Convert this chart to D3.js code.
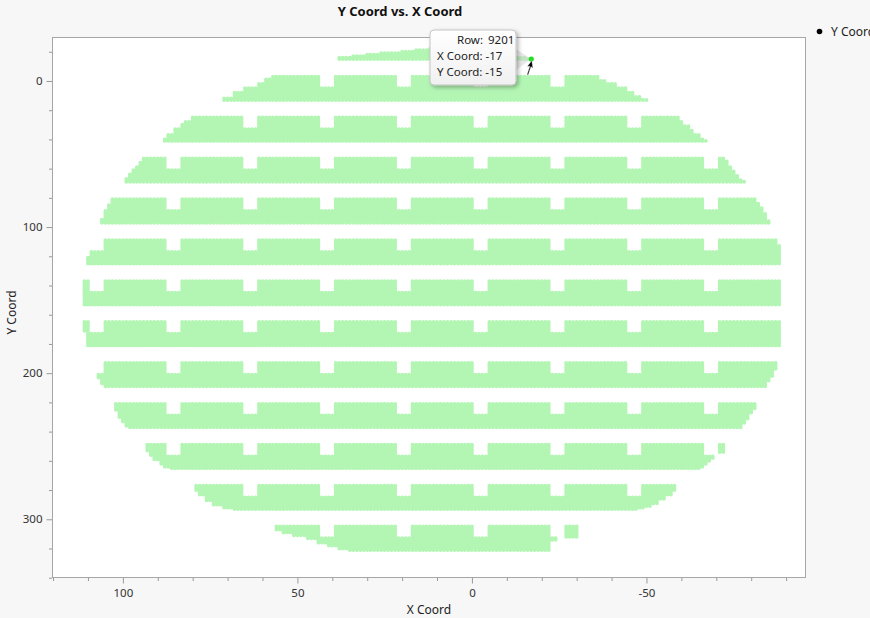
<!DOCTYPE html>
<html>
<head>
<meta charset="utf-8">
<script src="https://cdn.jsdelivr.net/npm/d3@7/dist/d3.min.js"></script>
<style>
  body { margin: 0; background: #f7f7f7; font-family: "Noto Sans", "Open Sans", sans-serif; }
  svg { display: block; }
  .axis text { font-size: 11.5px; fill: #333; font-family: "Noto Sans", sans-serif; }
  .axis line { stroke: #999; }
  .axis path { display: none; }
</style>
</head>
<body>
<div id="chart"></div>
<script>
// Die rows of the wafer: each row of dies is 17 grid rows high, a new one every 28 rows.
// stripTop = first grid row of the die row (notches hang from it)
// stripFirst / stripLast = grid rows that actually hold points (the top one is clipped by the wafer edge)
var stripTop   = [-31, -3, 25, 53, 81, 109, 137, 165, 193, 221, 249, 277, 305];
var stripFirst = [-22, -3, 25, 53, 81, 109, 137, 165, 193, 221, 249, 277, 305];
var stripLast  = [-15, 13, 41, 69, 97, 125, 153, 181, 209, 237, 265, 293, 321];

// Wafer edge per die row, read off the picture as steps: [from grid row, X Coord]
// leftEdge = largest X Coord of the row (left side, axis reversed), rightEdge = smallest
var leftEdge = [
  [[-22, 12], [-21, 16], [-20, 20], [-19, 26], [-18, 30], [-17, 34], [-16, 38]],
  [[-3, 57], [-1, 59], [2, 61], [5, 65], [8, 68], [12, 71]],
  [[25, 80], [28, 82], [30, 84], [33, 85], [37, 87], [40, 88]],
  [[53, 94], [56, 95], [59, 96], [61, 97], [64, 98], [67, 99]],
  [[81, 103], [85, 104], [89, 105], [95, 106]],
  [[109, 109], [121, 110]],
  [[137, 111]],
  [[165, 111], [172, 110]],
  [[193, 107], [204, 106], [208, 105]],
  [[221, 102], [226, 101], [231, 100], [234, 99], [237, 98]],
  [[249, 93], [254, 92], [257, 91], [260, 89], [263, 88], [265, 86]],
  [[277, 79], [281, 78], [284, 76], [288, 74], [291, 71], [293, 68]],
  [[305, 56], [308, 54], [310, 51], [312, 47], [314, 44], [317, 41], [319, 38], [321, 35]]
];
var rightEdge = [
  [[-22, 10], [-21, 6], [-20, 2], [-19, -4], [-18, -8], [-17, -12], [-16, -15], [-15, -17]],
  [[-3, -36], [0, -38], [2, -41], [5, -44], [8, -46], [11, -48], [13, -50]],
  [[25, -59], [28, -60], [31, -62], [34, -63], [37, -65], [40, -66], [41, -67]],
  [[53, -72], [55, -73], [59, -74], [62, -75], [65, -76], [68, -77], [69, -78]],
  [[81, -81], [84, -82], [87, -83], [91, -84], [96, -85]],
  [[109, -87], [113, -88]],
  [[137, -88]],
  [[165, -88]],
  [[193, -87], [198, -86], [203, -85], [206, -84]],
  [[221, -81], [225, -80], [228, -79], [232, -78], [235, -77]],
  [[249, -72], [255, -70], [257, -69], [259, -68], [261, -67], [263, -66], [265, -65]],
  [[277, -58], [281, -57], [284, -55], [287, -53], [290, -51], [292, -49], [293, -47]],
  [[305, -30], [313, -24], [315, -22]]
];

// Gaps between dies: X Coord columns left empty in the top rows of every die row
var notchCols = [[106, 109], [84, 87], [62, 65], [40, 43], [18, 21], [-4, -1], [-26, -23], [-48, -45], [-70, -67]];
var notchDepth = 8;

// Hovered point
var hovered = {row: 9201, x: -17, y: -15};

// Axes
var xDomain = [120.3, -95.7];
var yDomain = [-30.1, 340.2];
var xMajor = [100, 50, 0, -50];
var xMinor = [120, 110, 90, 80, 70, 60, 40, 30, 20, 10, -10, -20, -30, -40, -60, -70, -80, -90];
var yMajor = [0, 100, 200, 300];
var yMinor = [-20, 20, 40, 60, 80, 120, 140, 160, 180, 220, 240, 260, 280, 320, 340];

var width = 870, height = 618;
var frame = {left: 52, right: 806, top: 37, bottom: 578};

var svg = d3.select('#chart').append('svg')
    .attr('width', width)
    .attr('height', height);

var defs = svg.append('defs');
defs.append('clipPath').attr('id', 'plotclip')
  .append('rect')
    .attr('x', frame.left).attr('y', frame.top)
    .attr('width', frame.right - frame.left).attr('height', frame.bottom - frame.top);
var shadow = defs.append('filter').attr('id', 'shadow')
    .attr('x', '-20%').attr('y', '-20%').attr('width', '150%').attr('height', '150%');
shadow.append('feDropShadow')
    .attr('dx', 2).attr('dy', 2).attr('stdDeviation', 2)
    .attr('flood-color', '#000').attr('flood-opacity', 0.3);
var grad = defs.append('linearGradient').attr('id', 'tipfill')
    .attr('x1', 0).attr('y1', 0).attr('x2', 0).attr('y2', 1);
grad.append('stop').attr('offset', '0%').attr('stop-color', '#ffffff');
grad.append('stop').attr('offset', '100%').attr('stop-color', '#f0f0f0');

var x = d3.scaleLinear().domain(xDomain).range([frame.left, frame.right]);
var y = d3.scaleLinear().domain(yDomain).range([frame.top, frame.bottom]);

// plot background
svg.append('rect')
    .attr('x', frame.left).attr('y', frame.top)
    .attr('width', frame.right - frame.left).attr('height', frame.bottom - frame.top)
    .attr('fill', '#fff');

// build the points from the die rows
function edgeAt(steps, row) {
  var v = steps[0][1];
  steps.forEach(function(s) { if (row >= s[0]) v = s[1]; });
  return v;
}
function inNotch(c) {
  return notchCols.some(function(n) { return c >= n[0] && c <= n[1]; });
}

var points = [];
stripTop.forEach(function(top, i) {
  for (var r = stripFirst[i]; r <= stripLast[i]; r++) {
    var hi = edgeAt(leftEdge[i], r), lo = edgeAt(rightEdge[i], r);
    for (var c = lo; c <= hi; c++) {
      if (r - top < notchDepth && inNotch(c)) continue;
      points.push({strip: i, x: c, y: r});
    }
  }
});

// one path per die row, a small dot per point
var rad = 1.95;
function dots(list) {
  var s = '';
  list.forEach(function(d) {
    var cx = x(d.x), cy = y(d.y);
    s += 'M' + (cx - rad).toFixed(2) + ',' + cy.toFixed(2) +
         'a' + rad + ',' + rad + ' 0 1,0 ' + (2 * rad) + ',0' +
         'a' + rad + ',' + rad + ' 0 1,0 ' + (-2 * rad) + ',0';
  });
  return s;
}

var plot = svg.append('g').attr('clip-path', 'url(#plotclip)');
plot.selectAll('path.strip')
    .data(Array.from(d3.group(points, function(d) { return d.strip; }).values()))
  .enter().append('path')
    .attr('class', 'strip')
    .attr('fill', '#b3f6b4')
    .attr('d', dots);

// frame
svg.append('rect')
    .attr('x', frame.left + 0.5).attr('y', frame.top + 0.5)
    .attr('width', frame.right - frame.left - 1).attr('height', frame.bottom - frame.top - 1)
    .attr('fill', 'none')
    .attr('stroke', '#a6a6a6');

// axes
var fmt = function(d) { return String(d); };
svg.append('g')
    .attr('class', 'axis x')
    .attr('transform', 'translate(0,' + frame.bottom + ')')
    .call(d3.axisBottom(x).tickValues(xMajor).tickSize(5.5).tickPadding(5).tickFormat(fmt));
svg.append('g')
    .attr('class', 'axis x minor')
    .attr('transform', 'translate(0,' + frame.bottom + ')')
    .call(d3.axisBottom(x).tickValues(xMinor).tickSize(3).tickFormat(''));
svg.append('g')
    .attr('class', 'axis y')
    .attr('transform', 'translate(' + frame.left + ',0)')
    .call(d3.axisLeft(y).tickValues(yMajor).tickSize(5.5).tickPadding(4).tickFormat(fmt));
svg.append('g')
    .attr('class', 'axis y minor')
    .attr('transform', 'translate(' + frame.left + ',0)')
    .call(d3.axisLeft(y).tickValues(yMinor).tickSize(3).tickFormat(''));

// titles
svg.append('text')
    .attr('x', 400).attr('y', 16)
    .attr('text-anchor', 'middle')
    .attr('font-size', 13).attr('font-weight', 'bold').attr('fill', '#111')
    .text('Y Coord vs. X Coord');
svg.append('text')
    .attr('x', (frame.left + frame.right) / 2).attr('y', 614)
    .attr('text-anchor', 'middle')
    .attr('font-size', 12).attr('fill', '#222')
    .text('X Coord');
svg.append('text')
    .attr('transform', 'translate(16,' + ((frame.top + frame.bottom) / 2 + 5) + ') rotate(-90)')
    .attr('text-anchor', 'middle')
    .attr('font-size', 12).attr('fill', '#222')
    .text('Y Coord');

// legend
var legend = svg.append('g');
legend.append('circle').attr('cx', 819.5).attr('cy', 31.5).attr('r', 2.8).attr('fill', '#000');
legend.append('text').attr('x', 831).attr('y', 35.5)
    .attr('font-size', 12).attr('fill', '#222').text('Y Coord');

// hovered point + tooltip
var hx = x(hovered.x), hy = y(hovered.y);
svg.append('path')
    .attr('d', 'M516,49L' + hx + ',' + hy + 'L516,70Z')
    .attr('fill', '#cfcfcf').attr('opacity', 0.45);
svg.append('circle')
    .attr('cx', hx).attr('cy', hy).attr('r', 2.6)
    .attr('fill', '#22dd22');

var tip = svg.append('g');
tip.append('rect')
    .attr('x', 430).attr('y', 30).attr('width', 86).attr('height', 55).attr('rx', 4)
    .attr('fill', 'url(#tipfill)').attr('stroke', '#c4c4c4')
    .attr('filter', 'url(#shadow)');
tip.append('text').attr('x', 483).attr('y', 44).attr('text-anchor', 'end')
    .attr('font-size', 11.5).attr('fill', '#222').text('Row:');
tip.append('text').attr('x', 488).attr('y', 44)
    .attr('font-size', 11.5).attr('fill', '#222').text(String(hovered.row));
tip.append('text').attr('x', 437).attr('y', 60)
    .attr('font-size', 11.5).attr('fill', '#222').text('X Coord: ' + hovered.x);
tip.append('text').attr('x', 437).attr('y', 76)
    .attr('font-size', 11.5).attr('fill', '#222').text('Y Coord: ' + hovered.y);

// mouse cursor
svg.append('path')
    .attr('d', 'M' + (hx + 0.5) + ',' + (hy + 1.5) + 'l-4.5,6l2.5,-0.3l-2.8,8.5l1.2,0.3l2.8,-8.4l2,1.6z')
    .attr('fill', '#000').attr('stroke', '#fff').attr('stroke-width', 0.4);
</script>
</body>
</html>
